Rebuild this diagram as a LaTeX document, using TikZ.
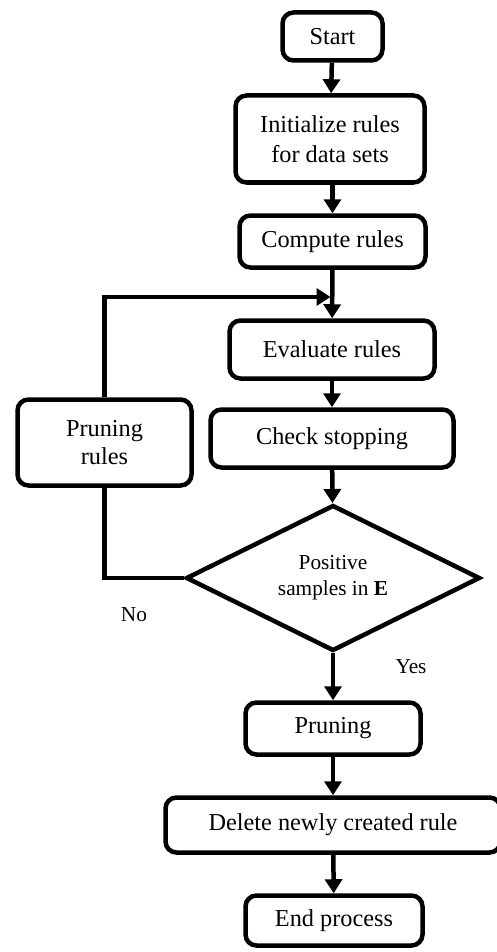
\documentclass[tikz,border=0pt]{standalone}
\usepackage{fontspec}
\setmainfont{Liberation Serif}
\usetikzlibrary{arrows.meta,shapes.geometric}
\begin{document}
\begin{tikzpicture}[x=1pt,y=-1pt,
  box/.style={draw=black,line width=4.5pt,rounded corners=11pt,align=center,inner sep=0pt,
    font=\fontsize{24.3}{30}\selectfont},
  dec/.style={draw=black,line width=4.5pt,diamond,aspect=2,inner sep=0pt,align=center,
    minimum width=294pt,minimum height=146pt,font=\fontsize{21.3}{26}\selectfont},
  lbl/.style={font=\fontsize{21.3}{24}\selectfont,inner sep=0pt},
  conn/.style={line width=4.5pt,-{Triangle[length=14pt,width=17pt]}},
  plain/.style={line width=4.5pt}]
\useasboundingbox (0,0) rectangle (497,952);
\node[box,minimum width=100pt,minimum height=48pt] (start) at (332.5,36.5) {Start};
\node[box,minimum width=189pt,minimum height=87pt] (init) at (330,139) {Initialize rules\\for data sets};
\node[box,minimum width=186pt,minimum height=52pt] (comp) at (332.5,241.5) {Compute rules};
\node[box,minimum width=205pt,minimum height=58pt] (eval) at (332,349.5) {Evaluate rules};
\node[box,minimum width=243pt,minimum height=58pt] (check) at (332,438.5) {Check stopping};
\node[dec] (dec) at (333,578) {Positive\\samples in \textbf{E}};
\node[box,minimum width=174pt,minimum height=86pt,font=\fontsize{24.3}{28}\selectfont] (prr) at (104.5,442.5) {Pruning\\rules};
\node[box,minimum width=175pt,minimum height=52pt] (prune) at (333,728.5) {Pruning};
\node[box,minimum width=335pt,minimum height=55pt] (del) at (333,825) {Delete newly created rule};
\node[box,minimum width=177pt,minimum height=50pt] (endp) at (334,920.5) {End process};
\coordinate (join) at (comp.south |- 0,297);
\node[lbl] (no) at (134,615) {No};
\node[lbl] (yes) at (411,667) {Yes};
\draw[conn] (start) -- (init);
\draw[conn] (init.south -| start) -- (comp.north -| start);
\draw[conn] (comp) -- (eval);
\draw[conn] (eval) -- (check);
\draw[conn] (check) -- (dec);
\draw[conn] (prr.north) |- ([xshift=-2pt]join);
\draw[plain] (prr.south) |- (dec.west);
\draw[conn] (dec) -- (prune);
\draw[conn] (prune) -- (del);
\draw[conn] (del) -- (endp);
\end{tikzpicture}
\end{document}
